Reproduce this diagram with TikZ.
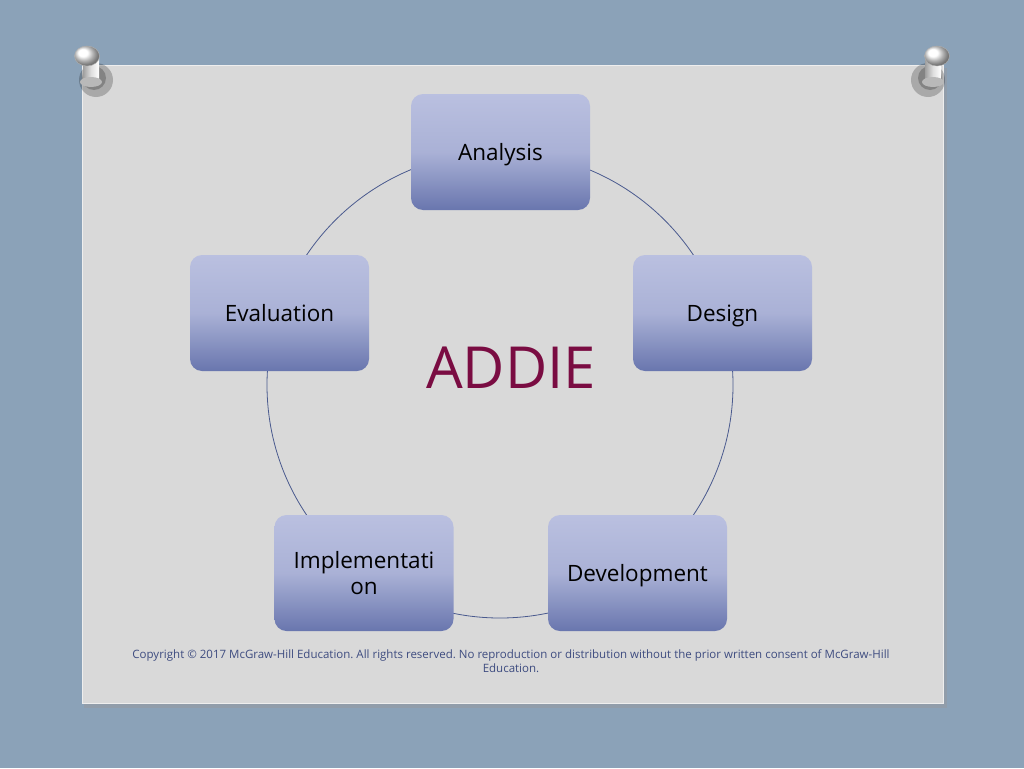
\documentclass[tikz,border=0pt]{standalone}
\usepackage{fontspec}
\setmainfont{Open Sans}
\usetikzlibrary{shadows.blur}
\definecolor{bgblue}{HTML}{8BA2B8}
\definecolor{card}{HTML}{D9D9D9}
\definecolor{boxtop}{HTML}{BAC0E0}
\definecolor{boxbot}{HTML}{6976AE}
\definecolor{ring}{HTML}{4A5A8E}
\definecolor{addie}{HTML}{7A0C42}
\definecolor{copy}{HTML}{3E4C80}
\tikzset{
  stage/.style={rounded corners=12pt, minimum width=179pt, minimum height=116pt,
    top color=boxtop, bottom color=boxbot, middle color=boxtop!80!boxbot,
    font=\fontsize{22.5}{26}\selectfont, text=black, align=center, inner sep=4pt},
  oneline/.style={text height=19pt, text depth=2pt},
  pinhead/.style={ball color=white, draw=gray!60, line width=0.4pt},
}
\begin{document}
\frenchspacing
\begin{tikzpicture}[x=1pt,y=-1pt]
\useasboundingbox (0,0) rectangle (1024,768);
\fill[bgblue] (0,0) rectangle (1024,768);
% card
\fill[black!40,opacity=0.45] (84,68) rectangle (947,708);
\fill[card] (82,65) rectangle (944,704);
\draw[white!55!card,line width=1pt] (82.5,65.5) rectangle (943.5,703.5);
% ring
\draw[ring,line width=0.8pt] (500,385) circle (233);
% boxes
\node[stage,oneline] (analysis) at (500.5,152) {Analysis};
\node[stage,oneline] (design) at (722.5,313) {Design};
\node[stage,oneline] (evaluation) at (279.5,313) {Evaluation};
\node[stage] (implementation) at (364,573) {Implementati\\on};
\node[stage,oneline] (development) at (637.5,573) {Development};
\node[text=addie,font=\fontsize{58}{62}\selectfont] (title) at (511,368) {ADDIE};
\node[text=copy,font=\fontsize{11.5}{13.5}\selectfont,align=center] (copyright) at (511,661)
  {Copyright © 2017 McGraw-Hill Education. All rights reserved. No reproduction or distribution without the prior written consent of McGraw-Hill\\Education.};
% pins
\foreach \px/\py/\dx in {87/56/1, 937/56/-1}{
  \fill[black,opacity=0.22] (\px+9*\dx,\py+24) circle (17);
  \fill[black,opacity=0.22] (\px+7*\dx,\py+22) circle (12);
  \shade[left color=gray!75,right color=white,middle color=gray!25] (\px-8+4*\dx,\py) rectangle (\px+8+4*\dx,\py+26);
  \fill[gray!55] (\px+4*\dx,\py+26) ellipse (11 and 5);
  \shade[pinhead] (\px,\py) ellipse (12.5 and 10);
}
\end{tikzpicture}
\end{document}
